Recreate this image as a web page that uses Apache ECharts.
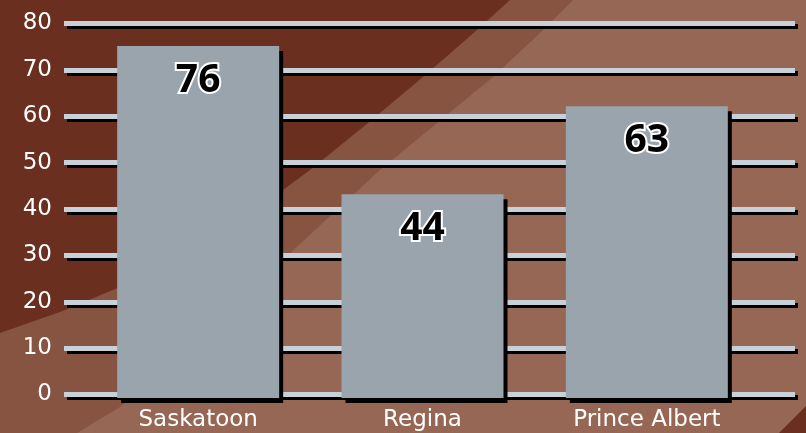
<!DOCTYPE html>
<html>
<head>
<meta charset="utf-8">
<script src="https://cdn.jsdelivr.net/npm/echarts@6/dist/echarts.min.js"></script>
<style>
html,body{margin:0;padding:0;background:#966754;}
#c{width:806px;height:433px;}
</style>
</head>
<body>
<div id="c"></div>
<script>
var categories = ['Saskatoon', 'Regina', 'Prince Albert'];
var values = [76, 44, 63];
var yTickLabels = ['0', '10', '20', '30', '40', '50', '60', '70', '80'];

var chart = echarts.init(document.getElementById('c'), null, {renderer: 'canvas'});
var option = {
  animation: false,
  backgroundColor: '#966754',
  graphic: [
    {
      type: 'polygon', z: -10, silent: true,
      shape: {points: [[0,0],[573,0],[543,30],[493,77],[437,123],[380,170],[250,290],[160,372],[120,407],[77,433],[0,433]]},
      style: {fill: '#865441'}
    },
    {
      type: 'polygon', z: -9, silent: true,
      shape: {points: [[0,0],[510,0],[477,30],[423,77],[368,123],[310,170],[283,190],[200,240],[120,287],[60,312],[0,333]]},
      style: {fill: '#6b2f20'}
    },
    {
      type: 'polygon', z: -9, silent: true,
      shape: {points: [[779,433],[806,406],[806,433]]},
      style: {fill: '#6b2f20'}
    }
  ],
  grid: [
    {left: 64, right: 11, top: 23.5, bottom: 38.5},
    {left: 86, right: 47, top: 27.6, bottom: 35}
  ],
  xAxis: [
    {gridIndex: 0, type: 'category', data: categories, show: false},
    {
      gridIndex: 1, type: 'category', data: categories,
      axisLine: {show: false}, axisTick: {show: false},
      axisLabel: {color: '#ffffff', fontSize: 23, fontFamily: 'DejaVu Sans', margin: 11}
    }
  ],
  yAxis: [
    {
      gridIndex: 0, type: 'value', min: 0, max: 80, interval: 10,
      axisLine: {show: false}, axisTick: {show: false},
      axisLabel: {
        color: '#ffffff', fontSize: 23, fontFamily: 'DejaVu Sans', margin: 12,
        formatter: function (v) { return yTickLabels[Math.round(v / 10)]; }
      },
      splitLine: {
        show: true,
        lineStyle: {color: '#c8d0da', width: 5, shadowColor: '#000000', shadowOffsetX: 3, shadowOffsetY: 3, shadowBlur: 0}
      }
    },
    {gridIndex: 1, type: 'value', min: 0, max: 80, interval: 10, show: false, splitLine: {show: false}}
  ],
  series: [
    {
      type: 'bar',
      xAxisIndex: 1, yAxisIndex: 1,
      data: values,
      barWidth: 162,
      itemStyle: {color: '#9aa4ac', shadowColor: '#000000', shadowOffsetX: 4, shadowOffsetY: 5, shadowBlur: 0},
      label: {
        show: true, position: 'insideTop', distance: 15,
        color: '#000000', fontSize: 39, fontWeight: 'bold', fontFamily: 'Noto Sans',
        textBorderColor: '#ffffff', textBorderWidth: 4
      }
    }
  ]
};
chart.setOption(option);
</script>
</body>
</html>
